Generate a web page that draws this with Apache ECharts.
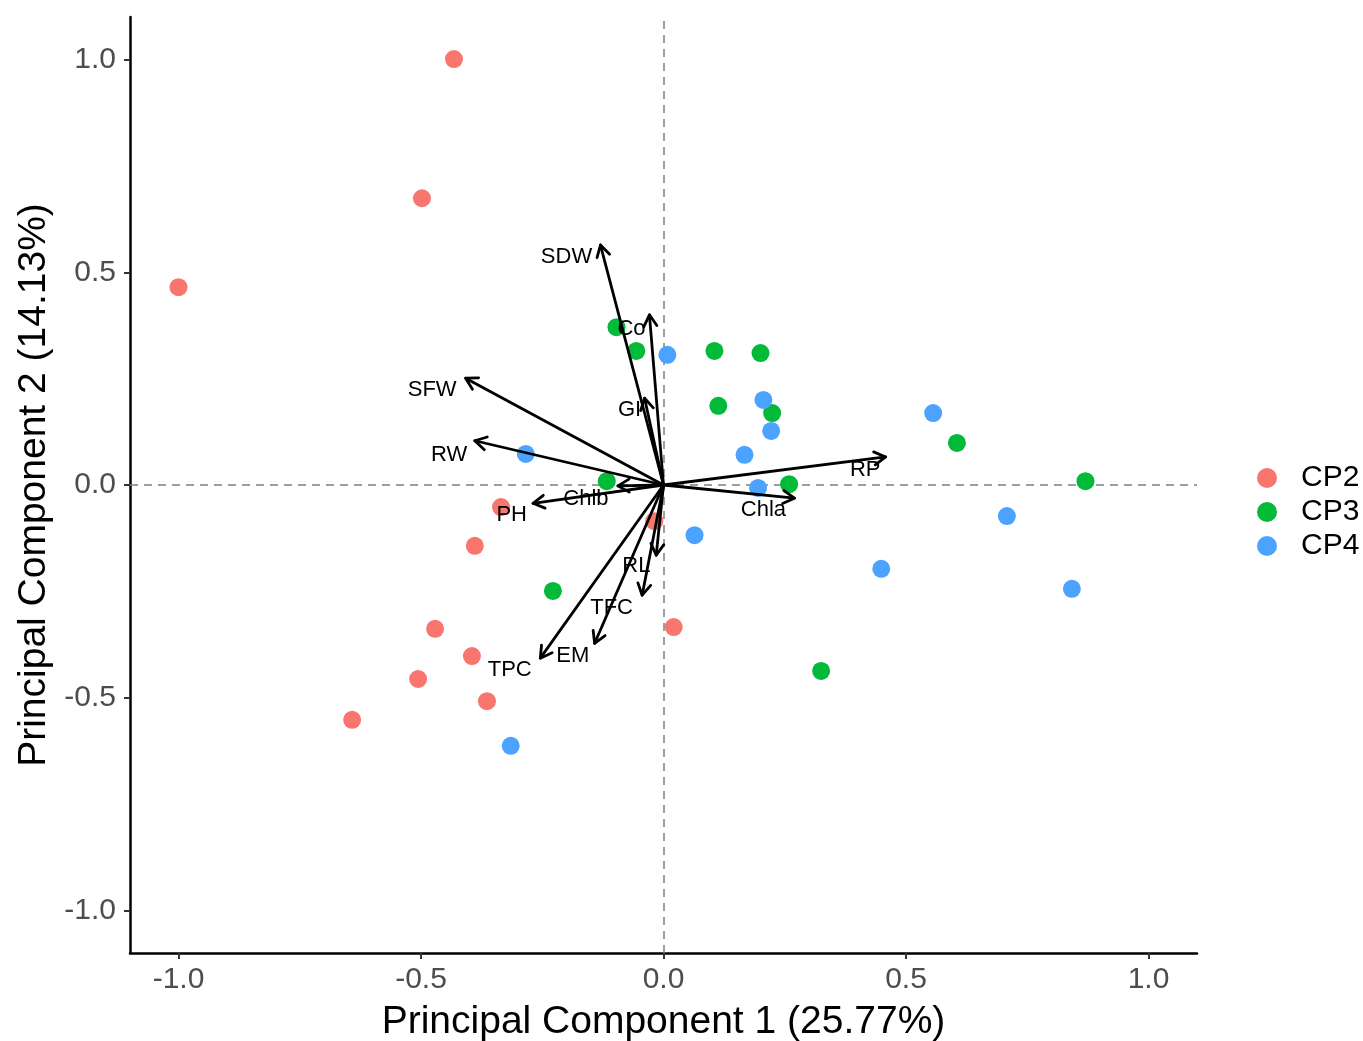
<!DOCTYPE html>
<html>
<head>
<meta charset="utf-8">
<script src="https://cdn.jsdelivr.net/npm/echarts@6/dist/echarts.min.js"></script>
<style>
html,body{margin:0;padding:0;background:#fff;}
#chart{width:1363px;height:1041px;}
</style>
</head>
<body>
<div id="chart"></div>
<script>
// ---- data ----
const groups = ['CP2', 'CP3', 'CP4'];
const cp2 = [[-0.432,1.001],[-0.498,0.674],[-1.0,0.465],[-0.335,-0.052],[-0.019,-0.085],[-0.389,-0.143],
             [-0.471,-0.338],[-0.395,-0.402],[0.021,-0.334],[-0.506,-0.456],[-0.364,-0.508],[-0.642,-0.552]];
const cp3 = [[-0.097,0.371],[-0.056,0.315],[0.105,0.315],[0.200,0.310],[0.113,0.186],[0.224,0.169],
             [0.605,0.099],[0.870,0.009],[-0.117,0.009],[0.259,0.002],[-0.228,-0.249],[0.325,-0.437]];
const cp4 = [[0.008,0.306],[0.206,0.200],[0.222,0.127],[0.556,0.169],[0.167,0.071],[-0.284,0.073],
             [0.195,-0.007],[0.708,-0.073],[0.064,-0.118],[0.449,-0.197],[0.842,-0.244],[-0.315,-0.613]];
const varNames = ['SDW','Co','GI','SFW','RW','Chlb','PH','RL','TFC','EM','TPC','RP','Chla'];
const arrowX = [-0.130,-0.029,-0.039,-0.408,-0.389,-0.094,-0.269,-0.015,-0.044,-0.142,-0.254,0.458,0.270];
const arrowY = [0.564,0.400,0.204,0.251,0.104,-0.002,-0.043,-0.165,-0.259,-0.372,-0.407,0.066,-0.031];
const labelX = [-0.200,-0.066,-0.070,-0.477,-0.442,-0.160,-0.313,-0.056,-0.107,-0.187,-0.317,0.416,0.206];
const labelY = [0.536,0.367,0.176,0.223,0.071,-0.033,-0.071,-0.190,-0.289,-0.402,-0.435,0.035,-0.059];
const tickValues = [-1.0,-0.5,0.0,0.5,1.0];
const xTitle = 'Principal Component 1 (25.77%)';
const yTitle = 'Principal Component 2 (14.13%)';

const colors = ['#F8766D','#00BA38','#4CA3FF'];
const FONT = '"Liberation Sans", Arial, sans-serif';

const arrowData = varNames.map((n,i)=>[arrowX[i], arrowY[i], labelX[i], labelY[i], n]);

function renderArrow(params, api){
  const o = api.coord([0,0]);
  const e = api.coord([api.value(0), api.value(1)]);
  const l = api.coord([api.value(2), api.value(3)]);
  const ang = Math.atan2(e[1]-o[1], e[0]-o[0]);
  const h = 13, a = Math.PI/6;
  const p1 = [e[0]-h*Math.cos(ang-a), e[1]-h*Math.sin(ang-a)];
  const p2 = [e[0]-h*Math.cos(ang+a), e[1]-h*Math.sin(ang+a)];
  const st = {stroke:'#000', lineWidth:2.8, fill:null, lineCap:'round', lineJoin:'round'};
  return {
    type:'group',
    children:[
      {type:'line', shape:{x1:o[0],y1:o[1],x2:e[0],y2:e[1]}, style:st},
      {type:'polyline', shape:{points:[p1,e,p2]}, style:st},
      {type:'text', x:l[0], y:l[1], style:{text: api.value(4), fill:'#000', font:'22px '+FONT, align:'center', verticalAlign:'middle'}}
    ]
  };
}

const chart = echarts.init(document.getElementById('chart'), null, {renderer:'canvas'});
const axisCommon = {
  min:-1.1, max:1.1,
  splitLine:{show:false},
  axisLine:{show:true, onZero:false, lineStyle:{color:'#000', width:2.5}},
  axisTick:{show:true, customValues: tickValues, length:6, lineStyle:{color:'#333', width:2}},
  axisLabel:{customValues: tickValues, formatter: v => Number(v).toFixed(1), color:'#4D4D4D', fontSize:30, fontFamily:FONT},
  nameLocation:'middle',
  nameTextStyle:{color:'#000', fontSize:39, fontFamily:FONT}
};
chart.setOption({
  animation:false,
  backgroundColor:'#fff',
  grid:{left:130, right:166, top:17, bottom:88, containLabel:false, outerBoundsMode:'none'},
  xAxis: Object.assign({}, axisCommon, {type:'value', name:xTitle, nameGap:50,
          axisLabel:Object.assign({}, axisCommon.axisLabel, {margin:12})}),
  yAxis: Object.assign({}, axisCommon, {type:'value', name:yTitle, nameGap:72,
          axisLabel:Object.assign({}, axisCommon.axisLabel, {margin:14})}),
  legend:{
    orient:'vertical', left:1252, top:458,
    data: groups, icon:'circle', itemWidth:20, itemHeight:20, itemGap:4,
    textStyle:{color:'#000', fontSize:30, fontFamily:FONT, padding:[0,0,0,19]}
  },
  series:[
    {name:groups[0], type:'scatter', data:cp2, symbolSize:18, itemStyle:{color:colors[0], opacity:1}, z:3,
     markLine:{silent:true, symbol:'none', label:{show:false},
       lineStyle:{color:'#7F7F7F', type:[8,6], width:1.5},
       data:[{xAxis:0},{yAxis:0}], z:1}},
    {name:groups[1], type:'scatter', data:cp3, symbolSize:18, itemStyle:{color:colors[1], opacity:1}, z:3},
    {name:groups[2], type:'scatter', data:cp4, symbolSize:18, itemStyle:{color:colors[2], opacity:1}, z:3},
    {type:'custom', data:arrowData, renderItem:renderArrow, encode:{x:0, y:1}, z:5, silent:true}
  ]
});
</script>
</body>
</html>
